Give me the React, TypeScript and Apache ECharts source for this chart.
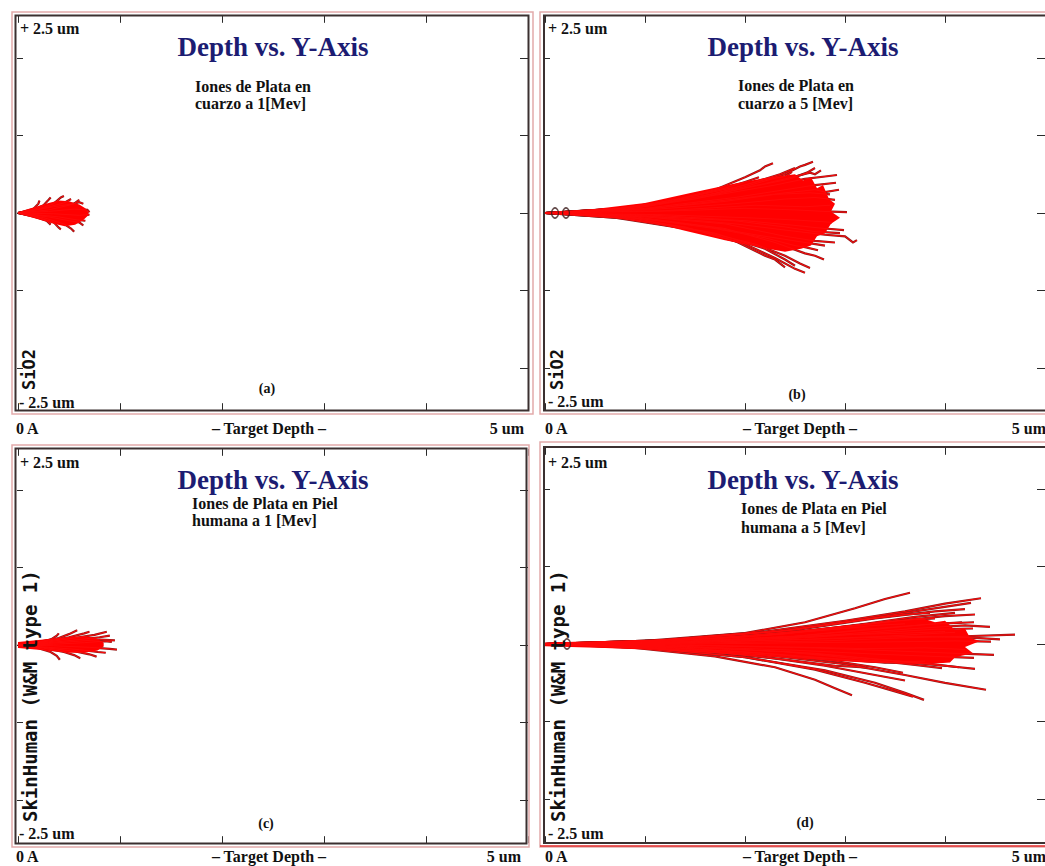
import React, { useEffect, useRef } from 'react';
import * as echarts from 'echarts';

// ---------- texts / ticks ----------
const xTickValues = [0, 1, 2, 3, 4, 5];
const yTickValues = [-2, -1, 0, 1, 2];
const xEndLabels = ['0 A', '5 um'];
const yEndLabels = ['+ 2.5 um', '- 2.5 um'];
const xAxisTitle = '– Target Depth –';
const panelTitle = 'Depth vs. Y-Axis';
const panelLetters = ['(a)', '(b)', '(c)', '(d)'];
const subtitles = [
  ['Iones de Plata en', 'cuarzo a 1[Mev]'],
  ['Iones de Plata en', 'cuarzo a 5 [Mev]'],
  ['Iones de Plata en Piel', 'humana a 1 [Mev]'],
  ['Iones de Plata en Piel', 'humana a 5 [Mev]'],
];
const targetNames = ['SiO2', 'SiO2', 'SkinHuman (W&M type 1)', 'SkinHuman (W&M type 1)'];

// ---------- dense cores (um) ----------
const envA = [
  [0, 0.01], [0.1, 0.05], [0.2, 0.09], [0.3, 0.13], [0.4, 0.16], [0.5, 0.15], [0.6, 0.11], [0.66, 0.06], [0.69, 0.01],
  [0.69, -0.03], [0.64, -0.09], [0.56, -0.15], [0.46, -0.17], [0.35, -0.14], [0.25, -0.1], [0.12, -0.05], [0, -0.01],
];
const envB = [
  [0, 0.01], [0.5, 0.05], [1.0, 0.13], [1.5, 0.27], [1.9, 0.38], [2.2, 0.45], [2.5, 0.5], [2.58, 0.42], [2.66, 0.46],
  [2.72, 0.32], [2.78, 0.36], [2.84, 0.18], [2.9, 0.12], [2.86, 0.02], [2.95, -0.06], [2.86, -0.14], [2.8, -0.26],
  [2.72, -0.3], [2.66, -0.42], [2.56, -0.46], [2.4, -0.5], [2.1, -0.43], [1.8, -0.35], [1.4, -0.23], [1.0, -0.1], [0.5, -0.04], [0, -0.01],
];
const envC = [
  [0, 0.04], [0.1, 0.05], [0.25, 0.07], [0.4, 0.09], [0.55, 0.11], [0.68, 0.11], [0.78, 0.08], [0.84, 0.03],
  [0.84, -0.02], [0.78, -0.07], [0.65, -0.1], [0.5, -0.1], [0.35, -0.08], [0.2, -0.06], [0, -0.04],
];
const envD = [
  [0, 0.02], [0.5, 0.035], [1, 0.05], [1.5, 0.075], [2, 0.11], [2.5, 0.17], [3, 0.24], [3.5, 0.3], [3.75, 0.34], [3.9, 0.28],
  [4.0, 0.3], [4.1, 0.18], [4.2, 0.2], [4.25, 0.08], [4.35, 0.04], [4.2, -0.04], [4.28, -0.12], [4.1, -0.17], [4.05, -0.24],
  [3.8, -0.26], [3.2, -0.24], [2.7, -0.2], [2.2, -0.16], [1.7, -0.12], [1.2, -0.08], [0.6, -0.05], [0, -0.03],
];

// ---------- ion trajectories (um) ----------
const trajA = [
  [[0, 0], [0.15, 0.04], [0.25, 0.1], [0.3, 0.17], [0.32, 0.2]],
  [[0, 0], [0.2, 0.05], [0.35, 0.12], [0.42, 0.2], [0.45, 0.22]],
  [[0, 0], [0.25, 0.06], [0.45, 0.13], [0.52, 0.18]],
  [[0, 0], [0.3, 0.04], [0.5, 0.1], [0.6, 0.14], [0.64, 0.12]],
  [[0, 0], [0.3, 0.02], [0.55, 0.05], [0.68, 0.04], [0.7, 0.01]],
  [[0, 0], [0.35, -0.01], [0.6, -0.03], [0.7, -0.02]],
  [[0, 0], [0.3, -0.05], [0.5, -0.1], [0.6, -0.12], [0.64, -0.16]],
  [[0, 0], [0.25, -0.06], [0.45, -0.14], [0.52, -0.2], [0.55, -0.24]],
  [[0, 0], [0.2, -0.06], [0.35, -0.12], [0.4, -0.19], [0.42, -0.21]],
  [[0, 0], [0.15, -0.04], [0.28, -0.1], [0.32, -0.15]],
  [[0, 0], [0.15, 0.05], [0.2, 0.12], [0.21, 0.16]],
  [[0, 0], [0.35, 0.08], [0.55, 0.12], [0.6, 0.17]],
  [[0, 0], [0.4, -0.05], [0.58, -0.09], [0.66, -0.1]],
];
const trajB = [
  [[0, 0], [0.6, 0.04], [1.2, 0.14], [1.7, 0.3], [2.0, 0.46], [2.15, 0.55], [2.2, 0.6], [2.28, 0.64]],
  [[0, 0], [0.8, 0.06], [1.5, 0.22], [2.0, 0.36], [2.4, 0.5], [2.55, 0.6], [2.6, 0.62], [2.68, 0.66]],
  [[0, 0], [0.9, 0.07], [1.6, 0.22], [2.2, 0.38], [2.5, 0.47], [2.65, 0.52], [2.7, 0.5], [2.76, 0.55]],
  [[0, 0], [1.0, 0.08], [1.8, 0.25], [2.3, 0.36], [2.6, 0.44], [2.8, 0.47], [2.92, 0.49]],
  [[0, 0], [1.0, 0.05], [1.9, 0.18], [2.4, 0.26], [2.7, 0.3], [2.8, 0.27], [2.94, 0.3]],
  [[0, 0], [1.1, 0.02], [2.0, 0.06], [2.5, 0.04], [2.8, 0.02], [3.02, 0.01]],
  [[0, 0], [1.0, -0.04], [1.9, -0.14], [2.4, -0.22], [2.8, -0.28], [3.0, -0.3], [3.08, -0.38], [3.12, -0.35]],
  [[0, 0], [1.1, -0.02], [2.0, -0.06], [2.5, -0.09], [2.87, -0.12]],
  [[0, 0], [0.9, -0.06], [1.7, -0.2], [2.2, -0.32], [2.5, -0.42], [2.6, -0.44], [2.73, -0.48]],
  [[0, 0], [0.8, -0.07], [1.6, -0.24], [2.1, -0.4], [2.4, -0.55], [2.55, -0.65], [2.65, -0.71]],
  [[0, 0], [0.7, -0.06], [1.5, -0.22], [2.0, -0.4], [2.3, -0.58], [2.5, -0.72], [2.6, -0.77]],
  [[0, 0], [0.7, -0.05], [1.4, -0.18], [1.9, -0.36], [2.2, -0.55], [2.3, -0.6], [2.4, -0.7]],
  [[0, 0], [0.7, 0.05], [1.3, 0.16], [1.8, 0.32], [2.0, 0.4], [2.14, 0.46]],
  [[0, 0], [0.8, 0.05], [1.5, 0.2], [2.0, 0.34], [2.3, 0.45], [2.4, 0.47], [2.47, 0.53]],
  [[0, 0], [1.0, 0.06], [1.9, 0.2], [2.4, 0.3], [2.7, 0.36], [2.91, 0.39]],
  [[0, 0], [1.1, -0.03], [2.0, -0.1], [2.5, -0.16], [2.8, -0.2], [2.99, -0.22]],
  [[0, 0], [0.9, -0.05], [1.8, -0.2], [2.3, -0.38], [2.6, -0.52], [2.7, -0.55], [2.79, -0.6]],
  [[0, 0], [1.0, 0.04], [1.9, 0.12], [2.4, 0.18], [2.7, 0.2], [2.9, 0.17]],
  [[0, 0], [0.9, 0.06], [1.7, 0.25], [2.1, 0.4], [2.35, 0.5], [2.5, 0.58]],
  [[0, 0], [1.0, -0.04], [1.9, -0.1], [2.4, -0.18], [2.7, -0.24], [2.95, -0.26]],
  [[0, 0], [0.8, -0.05], [1.6, -0.17], [2.1, -0.28], [2.5, -0.36], [2.8, -0.42]],
  [[0, 0], [1.2, 0.03], [2.1, 0.1], [2.6, 0.08], [2.85, 0.1]],
  [[0, 0], [0.9, -0.07], [1.7, -0.26], [2.2, -0.46], [2.4, -0.6], [2.5, -0.68]],
  [[0, 0], [0.7, 0.05], [1.5, 0.18], [2.0, 0.32], [2.45, 0.44], [2.62, 0.52], [2.7, 0.58]],
  [[0, 0], [1.0, 0.05], [1.8, 0.15], [2.3, 0.24], [2.65, 0.26], [2.85, 0.24]],
  [[0, 0], [1.0, -0.05], [1.8, -0.14], [2.4, -0.3], [2.7, -0.36], [2.9, -0.38]],
];
const trajC = [
  [[0, 0], [0.2, 0.04], [0.4, 0.09], [0.5, 0.14], [0.58, 0.19]],
  [[0, 0], [0.3, 0.04], [0.55, 0.09], [0.75, 0.13], [0.87, 0.17]],
  [[0, 0], [0.3, 0.03], [0.6, 0.07], [0.8, 0.1], [0.9, 0.12]],
  [[0, 0], [0.35, 0.01], [0.65, 0.03], [0.85, 0.05], [0.92, 0.04]],
  [[0, 0], [0.35, -0.01], [0.7, -0.03], [0.9, -0.05], [0.97, -0.06]],
  [[0, 0], [0.3, -0.04], [0.55, -0.08], [0.7, -0.12], [0.77, -0.15]],
  [[0, 0], [0.25, -0.04], [0.45, -0.09], [0.55, -0.13], [0.61, -0.17]],
  [[0, 0], [0.2, -0.04], [0.32, -0.09], [0.38, -0.14], [0.41, -0.19]],
  [[0, 0], [0.2, 0.03], [0.32, 0.07], [0.38, 0.12], [0.4, 0.15]],
  [[0, 0], [0.3, 0.05], [0.5, 0.1], [0.65, 0.15], [0.7, 0.17]],
  [[0, 0], [0.3, -0.03], [0.6, -0.06], [0.78, -0.09], [0.86, -0.1]],
  [[0, 0], [0.3, 0.02], [0.6, 0.05], [0.8, 0.07], [0.95, 0.06]],
];
const trajD = [
  [[0, 0], [1.0, 0.04], [2.0, 0.14], [2.6, 0.28], [3.1, 0.46], [3.4, 0.58], [3.65, 0.66]],
  [[0, 0], [1.2, 0.05], [2.2, 0.16], [3.0, 0.3], [3.6, 0.42], [4.0, 0.52], [4.36, 0.59]],
  [[0, 0], [1.2, 0.05], [2.3, 0.16], [3.1, 0.3], [3.7, 0.42], [4.26, 0.53]],
  [[0, 0], [1.3, 0.04], [2.4, 0.13], [3.2, 0.26], [3.7, 0.35], [4.1, 0.4]],
  [[0, 0], [1.3, 0.03], [2.5, 0.1], [3.3, 0.2], [3.9, 0.26], [4.29, 0.28]],
  [[0, 0], [1.4, 0.02], [2.6, 0.08], [3.4, 0.15], [3.9, 0.19], [4.28, 0.2]],
  [[0, 0], [1.5, 0.01], [2.8, 0.04], [3.6, 0.08], [4.2, 0.1], [4.7, 0.12]],
  [[0, 0], [1.5, 0.0], [2.8, 0.02], [3.6, 0.03], [4.1, 0.04], [4.46, 0.03]],
  [[0, 0], [1.4, -0.02], [2.7, -0.05], [3.5, -0.09], [4.1, -0.12], [4.49, -0.14]],
  [[0, 0], [1.3, -0.03], [2.5, -0.08], [3.3, -0.13], [3.9, -0.16], [4.29, -0.18]],
  [[0, 0], [1.2, -0.03], [2.4, -0.1], [3.2, -0.18], [3.8, -0.25], [4.14, -0.3]],
  [[0, 0], [1.1, -0.04], [2.2, -0.14], [3.0, -0.26], [3.6, -0.4], [4.0, -0.5], [4.41, -0.59]],
  [[0, 0], [1.0, -0.05], [2.0, -0.17], [2.8, -0.34], [3.3, -0.5], [3.6, -0.63], [3.79, -0.72]],
  [[0, 0], [1.0, -0.05], [2.0, -0.17], [2.7, -0.33], [3.2, -0.5], [3.5, -0.61], [3.68, -0.68]],
  [[0, 0], [0.9, -0.05], [1.7, -0.16], [2.3, -0.3], [2.7, -0.46], [2.9, -0.57], [3.07, -0.66]],
  [[0, 0], [1.1, -0.04], [2.2, -0.12], [2.9, -0.22], [3.3, -0.3], [3.58, -0.37]],
  [[0, 0], [1.2, -0.03], [2.4, -0.1], [3.2, -0.2], [3.7, -0.27], [3.97, -0.31]],
  [[0, 0], [1.4, 0.02], [2.6, 0.06], [3.4, 0.1], [3.8, 0.13], [4.1, 0.15]],
  [[0, 0], [1.3, 0.03], [2.5, 0.1], [3.3, 0.19], [3.8, 0.25], [4.17, 0.28]],
  [[0, 0], [1.2, 0.04], [2.3, 0.12], [3.0, 0.22], [3.5, 0.3], [3.9, 0.33]],
  [[0, 0], [1.1, 0.03], [2.1, 0.1], [2.8, 0.18], [3.3, 0.24], [3.6, 0.26]],
  [[0, 0], [1.3, -0.01], [2.5, -0.04], [3.2, -0.06], [3.8, -0.05], [4.2, -0.07]],
  [[0, 0], [1.0, -0.03], [2.0, -0.1], [2.7, -0.18], [3.2, -0.22], [3.5, -0.24]],
  [[0, 0], [1.2, 0.02], [2.3, 0.07], [3.0, 0.12], [3.6, 0.14], [4.0, 0.16]],
  [[0, 0], [1.0, 0.03], [2.0, 0.09], [2.6, 0.16], [3.1, 0.21], [3.3, 0.2]],
  [[0, 0], [1.2, -0.04], [2.3, -0.13], [3.0, -0.2], [3.4, -0.24], [3.8, -0.22]],
  [[0, 0], [1.3, 0.04], [2.6, 0.17], [3.4, 0.28], [4.0, 0.36], [4.3, 0.38]],
  [[0, 0], [0.9, -0.04], [1.8, -0.12], [2.4, -0.2], [2.9, -0.28], [3.2, -0.3]],
  [[0, 0], [1.1, -0.05], [2.1, -0.15], [2.8, -0.28], [3.3, -0.4], [3.6, -0.47]],
  [[0, 0], [1.5, 0.02], [2.9, 0.07], [3.7, 0.1], [4.3, 0.08], [4.55, 0.06]],
  [[0, 0], [1.3, 0.05], [2.5, 0.18], [3.3, 0.33], [3.9, 0.42], [4.2, 0.45]],
  [[0, 0], [1.2, 0.05], [2.4, 0.17], [3.2, 0.32], [3.6, 0.38], [3.85, 0.4]],
  [[0, 0], [1.4, -0.03], [2.7, -0.12], [3.5, -0.22], [4.0, -0.28], [4.3, -0.32]],
  [[0, 0], [1.5, 0.03], [2.9, 0.12], [3.7, 0.2], [4.2, 0.24], [4.45, 0.22]],
];
const markersB = [[0.1, 0], [0.21, 0]];
const markersD = [[0.22, 0]];

const envelopes = [envA, envB, envC, envD];
const trajectories = [trajA, trajB, trajC, trajD];
const markers = [[], markersB, [], markersD];

// ---------- layout ----------
const panels = [
  {
    gridLeft: 18, gridTop: 57.8, offTop: 42, offBottom: 42,
    outer: [12, 12, 521, 402], inner: [15.5, 15.5, 513, 395],
    plus: [20, 28], minus: [19, 402], title: [273, 47], sub: [195, 86, 103], letter: [267, 388],
    vert: [20, 390, 17], row: 428, rowX: [16, 269, 524], redBottom: false,
  },
  {
    gridLeft: 545, gridTop: 57.8, offTop: 42, offBottom: 42,
    outer: [540, 12, 520, 402], inner: [544, 15.5, 520, 395],
    plus: [548, 28], minus: [548, 401], title: [803, 47], sub: [738, 85, 103], letter: [797, 394],
    vert: [548, 390, 17], row: 428, rowX: [545, 800, 1046], redBottom: false,
  },
  {
    gridLeft: 18, gridTop: 489.8, offTop: 41, offBottom: 43,
    outer: [12, 445, 517, 402], inner: [15.5, 448.5, 511, 395],
    plus: [20, 462], minus: [19, 833], title: [273, 480], sub: [192, 503, 520], letter: [266, 823],
    vert: [20, 822, 19], row: 856, rowX: [16, 269, 521], redBottom: false,
  },
  {
    gridLeft: 545, gridTop: 488.8, offTop: 41, offBottom: 44,
    outer: [540, 442, 520, 405], inner: [544, 447, 520, 396],
    plus: [548, 462], minus: [548, 833], title: [803, 480], sub: [741, 508, 527], letter: [805, 822],
    vert: [548, 822, 19], row: 856, rowX: [545, 800, 1046], redBottom: true,
  },
];

const SERIF = '"Liberation Serif", "Times New Roman", serif';
const MONO = '"DejaVu Sans Mono", monospace';

function txt(text: string, x: number, y: number, font: string, fill: string, align = 'left', vAlign = 'middle') {
  return {
    type: 'text', silent: true, z: 100,
    style: { text, x, y, font, fill, align, verticalAlign: vAlign, textAlign: align, textVerticalAlign: vAlign },
  };
}

export default function App() {
  const ref = useRef<HTMLDivElement>(null);

  useEffect(() => {
    document.body.style.margin = '0';
    if (!ref.current) return;
    const chart = echarts.init(ref.current, null, { renderer: 'svg' });

    const grids: any[] = [];
    const xAxes: any[] = [];
    const yAxes: any[] = [];
    const series: any[] = [];
    const graphics: any[] = [];

    panels.forEach((p, k) => {
      grids.push({ left: p.gridLeft, top: p.gridTop, width: 510, height: 310.4, containLabel: false });
      const tickStyle = { show: true, inside: true, length: 7, lineStyle: { color: '#2a2a2a', width: 1 } };
      const baseX = {
        type: 'value', gridIndex: k, min: xTickValues[0], max: xTickValues[xTickValues.length - 1], interval: 1,
        axisLine: { show: false, onZero: false }, axisLabel: { show: false }, splitLine: { show: false }, axisTick: tickStyle,
      };
      xAxes.push({ ...baseX, position: 'bottom', offset: p.offBottom });
      xAxes.push({ ...baseX, position: 'top', offset: p.offTop });
      const baseY = {
        type: 'value', gridIndex: k, min: yTickValues[0], max: yTickValues[yTickValues.length - 1], interval: 1,
        axisLine: { show: false, onZero: false }, axisLabel: { show: false }, splitLine: { show: false },
      };
      yAxes.push({ ...baseY, position: 'left', offset: 1, axisTick: { ...tickStyle, length: 6 } });
      yAxes.push({ ...baseY, position: 'right', offset: 0, axisTick: { ...tickStyle, length: 8 } });

      const xi = 2 * k;
      const yi = 2 * k;
      const env = envelopes[k];
      const lineData = trajectories[k].map((c) => ({ coords: c }));

      series.push({
        type: 'lines', coordinateSystem: 'cartesian2d', xAxisIndex: xi, yAxisIndex: yi, polyline: true,
        silent: true, z: 2, data: lineData,
        lineStyle: { color: '#8e1a1a', width: 2.2, opacity: 1 },
      });
      series.push({
        type: 'custom', coordinateSystem: 'cartesian2d', xAxisIndex: xi, yAxisIndex: yi, silent: true, z: 3,
        data: env,
        renderItem: (params: any, api: any) => {
          if (params.dataIndex !== 0) return null;
          return {
            type: 'polygon',
            shape: { points: env.map((pt) => api.coord(pt)) },
            style: { fill: '#ff0000', stroke: null },
          };
        },
      });
      series.push({
        type: 'lines', coordinateSystem: 'cartesian2d', xAxisIndex: xi, yAxisIndex: yi, polyline: true,
        silent: true, z: 4, data: lineData,
        lineStyle: { color: '#ff0a0a', width: 1, opacity: 1 },
      });
      if (markers[k].length) {
        series.push({
          type: 'scatter', xAxisIndex: xi, yAxisIndex: yi, silent: true, z: 5, data: markers[k],
          symbol: 'circle', symbolSize: [7, 10],
          itemStyle: { color: 'rgba(0,0,0,0)', borderColor: '#3a1a1a', borderWidth: 1.5 },
        });
      }

      // frames
      const [ox, oy, ow, oh] = p.outer;
      const [ix, iy, iw, ih] = p.inner;
      graphics.push({ type: 'rect', silent: true, z: 50, shape: { x: ox, y: oy, width: ow, height: oh }, style: { fill: null, stroke: '#e2aaaa', lineWidth: 1.5 } });
      graphics.push({ type: 'rect', silent: true, z: 51, shape: { x: ix, y: iy, width: iw, height: ih }, style: { fill: null, stroke: '#3b3030', lineWidth: 2 } });
      if (p.redBottom) {
        graphics.push({ type: 'line', silent: true, z: 52, shape: { x1: ox, y1: oy + oh - 1, x2: ox + ow, y2: oy + oh - 1 }, style: { stroke: '#e02828', lineWidth: 1.5 } });
      }

      // texts
      const lab = `bold 16px ${SERIF}`;
      const row = `bold 16px ${SERIF}`;
      graphics.push(txt(yEndLabels[0], p.plus[0], p.plus[1], lab, '#111'));
      graphics.push(txt(yEndLabels[1], p.minus[0], p.minus[1], lab, '#111'));
      graphics.push(txt(panelTitle, p.title[0], p.title[1], `bold 27px ${SERIF}`, '#1c1c72', 'center'));
      graphics.push(txt(subtitles[k][0], p.sub[0], p.sub[1], lab, '#111'));
      graphics.push(txt(subtitles[k][1], p.sub[0], p.sub[2], lab, '#111'));
      graphics.push(txt(panelLetters[k], p.letter[0], p.letter[1], `bold 14px ${SERIF}`, '#111', 'center'));
      graphics.push({
        type: 'text', silent: true, z: 100, x: p.vert[0], y: p.vert[1], rotation: Math.PI / 2,
        style: {
          text: targetNames[k], x: 0, y: 0, font: `bold ${p.vert[2]}px ${MONO}`, fill: '#111',
          align: 'left', verticalAlign: 'top', textAlign: 'left', textVerticalAlign: 'top',
        },
      });
      graphics.push(txt(xEndLabels[0], p.rowX[0], p.row, row, '#111'));
      graphics.push(txt(xAxisTitle, p.rowX[1], p.row, row, '#111', 'center'));
      graphics.push(txt(xEndLabels[1], p.rowX[2], p.row, row, '#111', 'right'));
    });

    chart.setOption({
      animation: false,
      backgroundColor: '#ffffff',
      grid: grids,
      xAxis: xAxes,
      yAxis: yAxes,
      series,
      graphic: { elements: graphics },
    });

    return () => chart.dispose();
  }, []);

  return <div ref={ref} style={{ width: 1045, height: 866, background: '#fff' }} />;
}
